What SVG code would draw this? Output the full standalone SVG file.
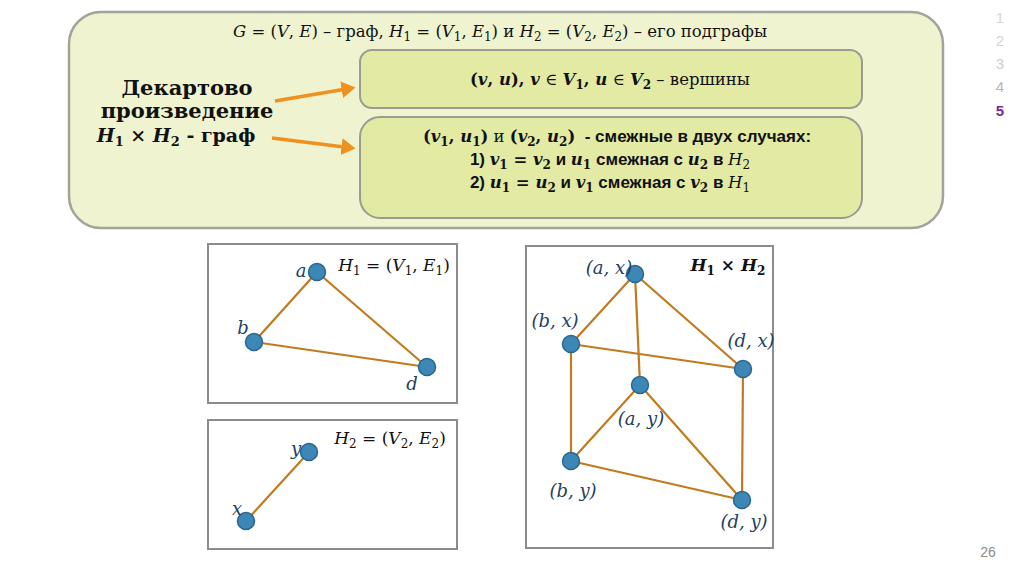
<svg xmlns="http://www.w3.org/2000/svg" width="1024" height="574" viewBox="0 0 1024 574">
<style>
.m{font-family:"DejaVu Serif","Liberation Serif",serif;font-size:16.5px;fill:#111}
.i{font-style:italic}
.b{font-weight:bold}
.s{font-size:12px}
.sans{font-family:"Liberation Sans",Arial,sans-serif;font-weight:bold;font-size:17px}
.lbl{font-family:"DejaVu Serif","Liberation Serif",serif;font-style:italic;font-size:18px;fill:#24405f}
.edge{stroke:#c27a1e;stroke-width:2.2;fill:none}
.node{fill:#3d87b6;stroke:#2a6690;stroke-width:1.5}
.frame{fill:none;stroke:#8c8c8c;stroke-width:2}
.arrow{stroke:#f0901e;stroke-width:3.5;fill:none}
.pg{font-family:"Liberation Sans",Arial,sans-serif;font-size:15px;text-anchor:middle}
</style>
<defs>
<marker id="ah" markerWidth="6" markerHeight="6" refX="3" refY="3" orient="auto" markerUnits="strokeWidth">
<path d="M0,0.6 L4,3 L0,5.4 z" fill="#f0901e"/>
</marker>
</defs>
<rect width="1024" height="574" fill="#fff"/>

<g id="definition">
<rect x="69" y="12" width="874" height="216" rx="32" fill="#eff3d0" stroke="#a3a39a" stroke-width="2.5"/>
<text class="m" x="500" y="37" text-anchor="middle"><tspan class="i">G</tspan> = (<tspan class="i">V</tspan>, <tspan class="i">E</tspan>) – граф, <tspan class="i">H</tspan><tspan class="s" dy="4">1</tspan><tspan dy="-4"> = (</tspan><tspan class="i">V</tspan><tspan class="s" dy="4">1</tspan><tspan dy="-4">, </tspan><tspan class="i">E</tspan><tspan class="s" dy="4">1</tspan><tspan dy="-4">) и </tspan><tspan class="i">H</tspan><tspan class="s" dy="4">2</tspan><tspan dy="-4"> = (</tspan><tspan class="i">V</tspan><tspan class="s" dy="4">2</tspan><tspan dy="-4">, </tspan><tspan class="i">E</tspan><tspan class="s" dy="4">2</tspan><tspan dy="-4">) – его подграфы</tspan></text>
</g>

<g id="title">
<text class="m b" style="font-size:21px" x="187" y="95" text-anchor="middle">Декартово</text>
<text class="m b" style="font-size:21px" x="187" y="118" text-anchor="middle">произведение</text>
<text class="m b" style="font-size:19px" x="176" y="142" text-anchor="middle"><tspan class="i">H</tspan><tspan style="font-size:13px" dy="4">1</tspan><tspan dy="-4"> × </tspan><tspan class="i">H</tspan><tspan style="font-size:13px" dy="4">2</tspan><tspan dy="-4"> - граф</tspan></text>
</g>

<g id="vertices-box">
<rect x="360" y="50" width="502" height="58" rx="12" fill="#e2eaa3" stroke="#9b9b92" stroke-width="2"/>
<text class="m" x="610" y="85" text-anchor="middle"><tspan class="b">(</tspan><tspan class="b i">v</tspan><tspan class="b">, </tspan><tspan class="b i">u</tspan><tspan class="b">), </tspan><tspan class="b i">v</tspan> ∈ <tspan class="b i">V</tspan><tspan class="s b" dy="4">1</tspan><tspan dy="-4" class="b">, </tspan><tspan class="b i">u</tspan> ∈ <tspan class="b i">V</tspan><tspan class="s b" dy="4">2</tspan><tspan dy="-4"> – вершины</tspan></text>
</g>

<g id="adjacency-box">
<rect x="360" y="117" width="502" height="101" rx="20" fill="#e2eaa3" stroke="#9b9b92" stroke-width="2"/>
<text class="m" x="617" y="142" text-anchor="middle"><tspan class="b">(</tspan><tspan class="b i">v</tspan><tspan class="s b" dy="4">1</tspan><tspan class="b" dy="-4">, </tspan><tspan class="b i">u</tspan><tspan class="s b" dy="4">1</tspan><tspan class="b" dy="-4">)</tspan> и <tspan class="b">(</tspan><tspan class="b i">v</tspan><tspan class="s b" dy="4">2</tspan><tspan class="b" dy="-4">, </tspan><tspan class="b i">u</tspan><tspan class="s b" dy="4">2</tspan><tspan class="b" dy="-4">)</tspan><tspan class="sans" xml:space="preserve">  - смежные в двух случаях:</tspan></text>
<text class="m" x="610" y="165" text-anchor="middle"><tspan class="sans">1) </tspan><tspan class="b i">v</tspan><tspan class="s b" dy="4">1</tspan><tspan class="b" dy="-4"> = </tspan><tspan class="b i">v</tspan><tspan class="s b" dy="4">2</tspan><tspan class="sans" dy="-4"> и </tspan><tspan class="b i">u</tspan><tspan class="s b" dy="4">1</tspan><tspan class="sans" dy="-4"> смежная с </tspan><tspan class="b i">u</tspan><tspan class="s b" dy="4">2</tspan><tspan class="sans" dy="-4"> в </tspan><tspan class="i">H</tspan><tspan class="s" dy="4">2</tspan></text>
<text class="m" x="610" y="188" text-anchor="middle"><tspan class="sans">2) </tspan><tspan class="b i">u</tspan><tspan class="s b" dy="4">1</tspan><tspan class="b" dy="-4"> = </tspan><tspan class="b i">u</tspan><tspan class="s b" dy="4">2</tspan><tspan class="sans" dy="-4"> и </tspan><tspan class="b i">v</tspan><tspan class="s b" dy="4">1</tspan><tspan class="sans" dy="-4"> смежная с </tspan><tspan class="b i">v</tspan><tspan class="s b" dy="4">2</tspan><tspan class="sans" dy="-4"> в </tspan><tspan class="i">H</tspan><tspan class="s" dy="4">1</tspan></text>
</g>

<g id="connectors">
<line class="arrow" x1="275" y1="101" x2="352" y2="88" marker-end="url(#ah)"/>
<line class="arrow" x1="272" y1="138" x2="352" y2="148" marker-end="url(#ah)"/>
<g id="h1-edges">
<line class="edge" x1="317" y1="272" x2="254" y2="342"/>
<line class="edge" x1="317" y1="272" x2="427" y2="367"/>
<line class="edge" x1="254" y1="342" x2="427" y2="367"/>
</g>
<g id="h2-edges">
<line class="edge" x1="309" y1="452" x2="246" y2="521"/>
</g>
<g id="product-edges">
<line class="edge" x1="635" y1="274" x2="571" y2="344"/>
<line class="edge" x1="635" y1="274" x2="743" y2="369"/>
<line class="edge" x1="635" y1="274" x2="640" y2="385"/>
<line class="edge" x1="571" y1="344" x2="743" y2="369"/>
<line class="edge" x1="571" y1="344" x2="571" y2="461"/>
<line class="edge" x1="743" y1="369" x2="742" y2="500"/>
<line class="edge" x1="640" y1="385" x2="571" y2="461"/>
<line class="edge" x1="640" y1="385" x2="742" y2="500"/>
<line class="edge" x1="571" y1="461" x2="742" y2="500"/>
</g>
</g>

<g id="h1-frame">
<rect class="frame" x="208" y="244" width="249" height="159"/>
<text class="m" x="394" y="271" text-anchor="middle" style="font-size:17px"><tspan class="i">H</tspan><tspan class="s" dy="4">1</tspan><tspan dy="-4"> = (</tspan><tspan class="i">V</tspan><tspan class="s" dy="4">1</tspan><tspan dy="-4">, </tspan><tspan class="i">E</tspan><tspan class="s" dy="4">1</tspan><tspan dy="-4">)</tspan></text>
</g>
<g id="node-a"><circle class="node" cx="317" cy="272" r="8.5"/><text class="lbl" x="301" y="277" text-anchor="middle">a</text></g>
<g id="node-b"><circle class="node" cx="254" cy="342" r="8.5"/><text class="lbl" x="243" y="334" text-anchor="middle">b</text></g>
<g id="node-d"><circle class="node" cx="427" cy="367" r="8.5"/><text class="lbl" x="412" y="390" text-anchor="middle">d</text></g>

<g id="h2-frame">
<rect class="frame" x="208" y="420" width="249" height="129"/>
<text class="m" x="390" y="444" text-anchor="middle" style="font-size:17px"><tspan class="i">H</tspan><tspan class="s" dy="4">2</tspan><tspan dy="-4"> = (</tspan><tspan class="i">V</tspan><tspan class="s" dy="4">2</tspan><tspan dy="-4">, </tspan><tspan class="i">E</tspan><tspan class="s" dy="4">2</tspan><tspan dy="-4">)</tspan></text>
</g>
<g id="node-y"><circle class="node" cx="309" cy="452" r="8.5"/><text class="lbl" x="296" y="455" text-anchor="middle">y</text></g>
<g id="node-x"><circle class="node" cx="246" cy="521" r="8.5"/><text class="lbl" x="237" y="515" text-anchor="middle">x</text></g>

<g id="product-frame">
<rect class="frame" x="526" y="246" width="247" height="302"/>
<text class="m b" x="728" y="271" text-anchor="middle" style="font-size:17px"><tspan class="i">H</tspan><tspan class="s" dy="4">1</tspan><tspan dy="-4"> × </tspan><tspan class="i">H</tspan><tspan class="s" dy="4">2</tspan></text>
</g>
<g id="node-ax"><circle class="node" cx="635" cy="274" r="8.5"/><text class="lbl" x="609" y="274" text-anchor="middle">(a, x)</text></g>
<g id="node-bx"><circle class="node" cx="571" cy="344" r="8.5"/><text class="lbl" x="555" y="327" text-anchor="middle">(b, x)</text></g>
<g id="node-dx"><circle class="node" cx="743" cy="369" r="8.5"/><text class="lbl" x="751" y="347" text-anchor="middle">(d, x)</text></g>
<g id="node-ay"><circle class="node" cx="640" cy="385" r="8.5"/><text class="lbl" x="641" y="425" text-anchor="middle">(a, y)</text></g>
<g id="node-by"><circle class="node" cx="571" cy="461" r="8.5"/><text class="lbl" x="573" y="497" text-anchor="middle">(b, y)</text></g>
<g id="node-dy"><circle class="node" cx="742" cy="500" r="8.5"/><text class="lbl" x="744" y="528" text-anchor="middle">(d, y)</text></g>

<g id="page-nav">
<text class="pg" x="1000" y="23" fill="#d4d4d4">1</text>
<text class="pg" x="1000" y="46" fill="#d4d4d4">2</text>
<text class="pg" x="1000" y="69" fill="#cccccc">3</text>
<text class="pg" x="1000" y="92" fill="#b8b8b8">4</text>
<text class="pg" x="1000" y="116" fill="#7030a0" font-weight="bold">5</text>
<text class="pg" x="988" y="557" fill="#8a8a8a" style="font-size:14px">26</text>
</g>
</svg>
